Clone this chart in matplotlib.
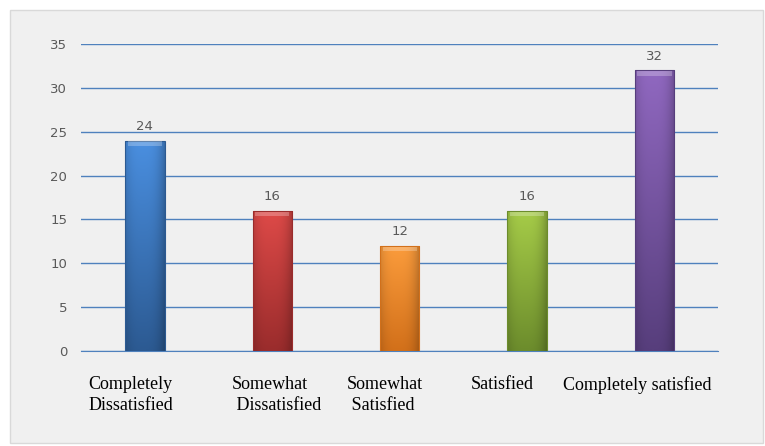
import numpy as np
import matplotlib.pyplot as plt
import matplotlib.transforms as mtransforms
from matplotlib.patches import Rectangle

categories = ['Completely\nDissatisfied', 'Somewhat\n Dissatisfied', 'Somewhat\n Satisfied',
              'Satisfied', 'Completely satisfied']
values = [24, 16, 12, 16, 32]
top_colors = ['#4a8fe0', '#de4a48', '#fb9c3c', '#a6cc48', '#9068c0']
bottom_colors = ['#2c5a92', '#9a2c2c', '#d2701a', '#6c8c2c', '#573e7c']

fig = plt.figure(figsize=(7.65, 4.46), dpi=100, facecolor='white')
fig.patches.append(Rectangle((10 / 765, 3 / 446), 753 / 765, 433 / 446, transform=fig.transFigure,
                             facecolor='#f0f0f0', edgecolor='#d9d9d9', lw=1, zorder=-1))
ax = fig.add_axes([0.106, 0.213, 0.833, 0.688])
ax.set_facecolor('none')

x = np.arange(len(values))
width = 0.31
bars = ax.bar(x, values, width, color=top_colors, edgecolor='none', zorder=3)

# verlauf in jede saeule malen
for b, c1, c2 in zip(bars, top_colors, bottom_colors):
    r1, g1, b1 = [int(c1[i:i + 2], 16) / 255 for i in (1, 3, 5)]
    r2, g2, b2 = [int(c2[i:i + 2], 16) / 255 for i in (1, 3, 5)]
    t = np.linspace(0, 1, 100)[:, None]
    grad = np.dstack([r1 + (r2 - r1) * t, g1 + (g2 - g1) * t, b1 + (b2 - b1) * t])
    # seitliche schattierung
    s = np.linspace(0, 1, 40)[None, :]
    shade = 1 - 0.18 * (np.abs(s - 0.45) * 2) ** 3
    img = grad * shade[:, :, None]
    x0, y0 = b.get_x(), b.get_y()
    w, h = b.get_width(), b.get_height()
    im = ax.imshow(img, extent=[x0, x0 + w, y0, y0 + h], aspect='auto', zorder=4)
    im.set_clip_path(b)
    ax.add_patch(Rectangle((x0, y0), w, h, fill=False, edgecolor=c2, lw=0.8, zorder=5))
    ax.add_patch(Rectangle((x0 + 0.02, y0 + h - 0.6), w - 0.04, 0.5,
                           facecolor='white', alpha=0.25, edgecolor='none', zorder=5))
    ax.text(b.get_x() + w / 2, h + 0.9, str(int(h)), ha='center', va='bottom',
            fontsize=9.5, color='#595959', zorder=6)

ax.set_xlim(-0.5, len(values) - 0.5)
ax.set_ylim(0, 35)
ax.set_yticks(range(0, 36, 5))
ax.yaxis.grid(True, color='#4f81bd', lw=1, zorder=1)
ax.set_axisbelow(True)
for sp in ['left', 'right', 'top']:
    ax.spines[sp].set_visible(False)
ax.spines['bottom'].set_color('#4f81bd')
ax.tick_params(axis='both', length=0)
ax.tick_params(axis='y', labelsize=9.5, colors='#595959', pad=10)
ax.set_xticks(x)
ax.set_xticklabels(categories, fontfamily='Liberation Serif', fontsize=13, color='black',
                   linespacing=1.3)
ax.tick_params(axis='x', pad=18)
# beschriftungen stehen im original etwas links von der saeule
shifts = [-14, 4, -15, -25, -17]
for lbl, dx in zip(ax.get_xticklabels(), shifts):
    lbl.set_multialignment('left')
    lbl.set_transform(lbl.get_transform() + mtransforms.ScaledTranslation(dx / 100, 0, fig.dpi_scale_trans))

fig.savefig('out.png', dpi=100, facecolor=fig.get_facecolor())
